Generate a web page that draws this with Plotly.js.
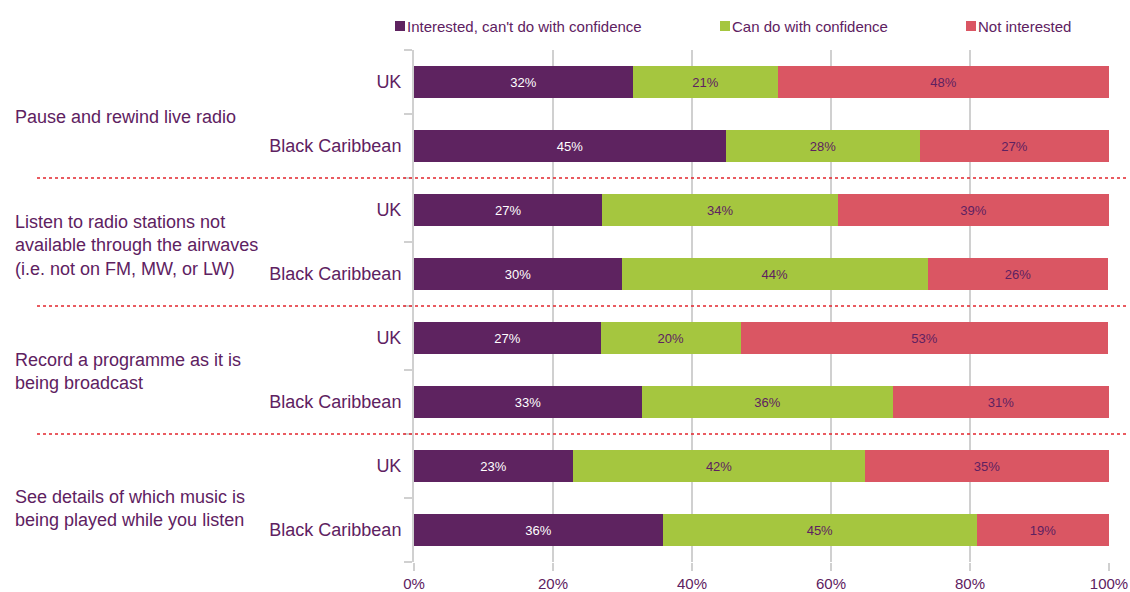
<!DOCTYPE html>
<html>
<head>
<meta charset="utf-8">
<script src="https://cdn.plot.ly/plotly-3.0.1.min.js"></script>
<style>html,body{margin:0;padding:0;background:#fff;}#chart{width:1130px;height:592px;}</style>
</head>
<body>
<div id="chart"></div>
<script>
// ---- data ----
const categories = ['UK', 'Black Caribbean', 'UK', 'Black Caribbean', 'UK', 'Black Caribbean', 'UK', 'Black Caribbean'];
const groups = [
  'Pause and rewind live radio',
  'Listen to radio stations not<br>available through the airwaves<br>(i.e. not on FM, MW, or LW)',
  'Record a programme as it is<br>being broadcast',
  'See details of which music is<br>being played while you listen'
];
const seriesNames = ["Interested, can't do with confidence", 'Can do with confidence', 'Not interested'];
const interested = [31.5, 44.9, 27.1, 29.9, 26.9, 32.8, 22.9, 35.8];
const canDo      = [20.9, 27.9, 33.9, 44.0, 20.1, 36.1, 42.0, 45.2];
const notInt     = [47.6, 27.2, 39.0, 26.0, 52.9, 31.1, 35.1, 19.0];
const interestedLbl = ['32%', '45%', '27%', '30%', '27%', '33%', '23%', '36%'];
const canDoLbl      = ['21%', '28%', '34%', '44%', '20%', '36%', '42%', '45%'];
const notIntLbl     = ['48%', '27%', '39%', '26%', '53%', '31%', '35%', '19%'];
const xTicks = [0, 20, 40, 60, 80, 100];

// ---- styling ----
const PURPLE = '#5E2360';
const GREEN = '#A5C63F';
const RED = '#DA5663';
const TXT = '#5E2161';
const GRID = '#D0D0D0';
const FONT = 'Liberation Sans, Arial, sans-serif';

const rows = categories.map((_, i) => i);
const colors = [PURPLE, GREEN, RED];
const textColors = ['#FFFFFF', TXT, TXT];
const vals = [interested, canDo, notInt];
const lbls = [interestedLbl, canDoLbl, notIntLbl];

const traces = vals.map((v, k) => ({
  type: 'bar',
  orientation: 'h',
  name: seriesNames[k],
  y: rows,
  x: v,
  text: lbls[k],
  texttemplate: '%{text}',
  textposition: 'inside',
  insidetextanchor: 'middle',
  textangle: 0,
  constraintext: 'none',
  textfont: {family: FONT, size: 13, color: textColors[k]},
  marker: {color: colors[k], line: {width: 0}},
  hoverinfo: 'skip'
}));

// plot area geometry (px)
const L = 414, R = 1109, T = 50, B = 562;
const W = R - L, H = B - T;
const px2x = px => (px - L) / W;
const py2y = py => (B - py) / H;

const shapes = [];
// dotted separators between groups
[1.5, 3.5, 5.5].forEach(yv => {
  shapes.push({type: 'line', xref: 'paper', yref: 'y', x0: px2x(37), x1: px2x(1127), y0: yv, y1: yv,
    line: {color: '#E2262E', width: 1.5, dash: 'dot'}});
});

const annotations = [];
// group labels (centres in row units)
const groupY = [0.55, 2.56, 4.52, 6.66];
groups.forEach((g, i) => {
  annotations.push({xref: 'paper', yref: 'y', x: px2x(13), y: groupY[i], xanchor: 'left', yanchor: 'middle',
    align: 'left', showarrow: false, text: g, font: {family: FONT, size: 18, color: TXT}});
});
// custom legend
const legendX = [395, 720, 966];
seriesNames.forEach((n, k) => {
  shapes.push({type: 'rect', xref: 'paper', yref: 'paper', x0: px2x(legendX[k]), x1: px2x(legendX[k] + 10),
    y0: py2y(31), y1: py2y(21), fillcolor: colors[k], line: {width: 0}});
  annotations.push({xref: 'paper', yref: 'paper', x: px2x(legendX[k] + 10), y: py2y(26), xanchor: 'left', yanchor: 'middle',
    showarrow: false, text: n.replace("'", '&#39;'), font: {family: FONT, size: 15, color: TXT}});
});

const layout = {
  width: 1130, height: 592,
  margin: {l: L, r: 1130 - R, t: T, b: 592 - B},
  paper_bgcolor: '#fff', plot_bgcolor: '#fff',
  barmode: 'stack',
  bargap: 0.5,
  showlegend: false,
  font: {family: FONT, color: TXT},
  xaxis: {
    range: [0, 100], tickvals: xTicks, ticktext: xTicks.map(t => t + '%'),
    showgrid: true, gridcolor: GRID, gridwidth: 2,
    zeroline: false, showline: false,
    ticks: 'outside', ticklen: 8, tickcolor: GRID, tickwidth: 2,
    tickfont: {family: FONT, size: 15, color: TXT}, fixedrange: true
  },
  yaxis: {
    range: [7.5, -0.5], tickvals: rows, ticktext: categories,
    showgrid: false, zeroline: false,
    showline: true, linecolor: GRID, linewidth: 2,
    ticks: 'outside', ticklen: 7, tickcolor: 'rgba(0,0,0,0)',
    minor: {tickvals: [-0.5, 0.5, 1.5, 2.5, 3.5, 4.5, 5.5, 6.5, 7.5], ticks: 'outside', ticklen: 8, tickcolor: GRID, tickwidth: 2, showgrid: false},
    tickfont: {family: FONT, size: 18, color: TXT}, fixedrange: true
  },
  shapes: shapes,
  annotations: annotations
};

Plotly.newPlot('chart', traces, layout, {displayModeBar: false, staticPlot: true});
</script>
</body>
</html>
